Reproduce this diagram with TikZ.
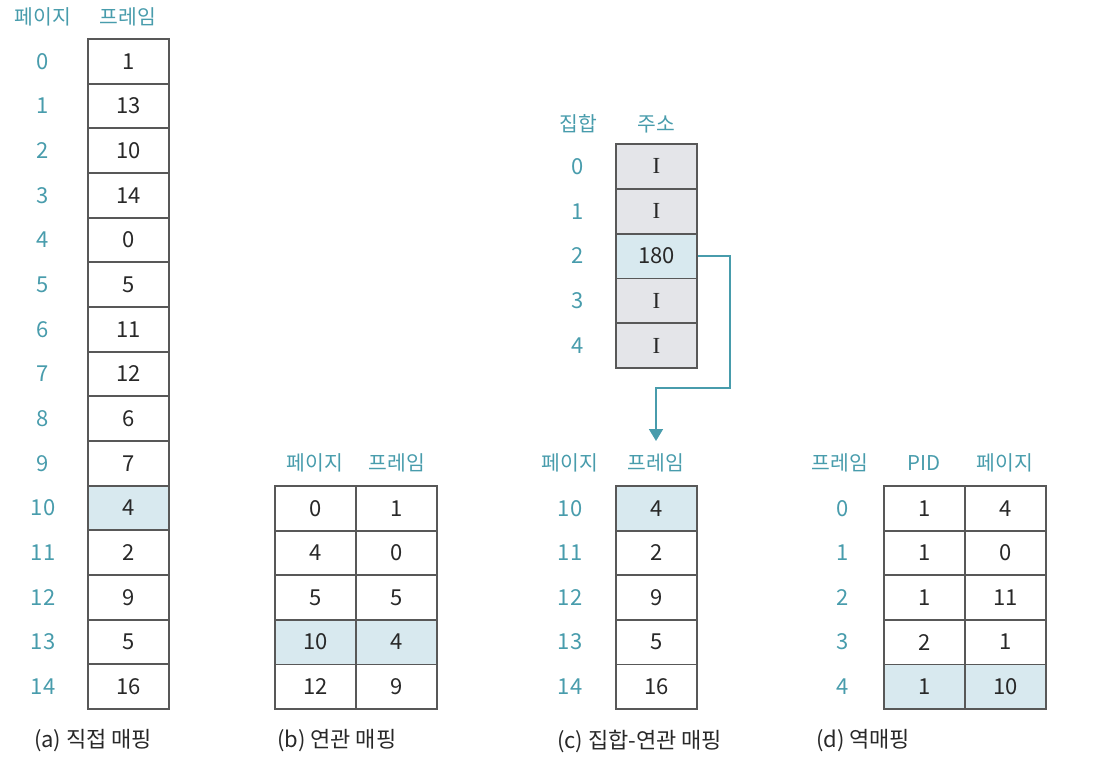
\documentclass[tikz,border=0pt]{standalone}
\usepackage{fontspec}
\setmainfont{Noto Sans CJK KR}
\newfontfamily\invfont{Liberation Serif}
\usetikzlibrary{arrows.meta}
\definecolor{idxteal}{RGB}{72,156,172}
\definecolor{cellline}{RGB}{88,88,88}
\definecolor{hitblue}{RGB}{216,233,239}
\definecolor{invgray}{RGB}{228,229,233}
\definecolor{captext}{RGB}{40,40,40}
\begin{document}
\begin{tikzpicture}[x=0.5pt,y=-0.5pt,
    cell/.style={draw=cellline,line width=0.85pt,minimum width=40.5pt,minimum height=22.35pt,inner sep=0pt,text=captext,font=\fontsize{11}{12}\selectfont},
    hit/.style={cell,fill=hitblue},
    inv/.style={cell,fill=invgray,font=\invfont\fontsize{11.5}{12}\selectfont},
    idx/.style={text=idxteal,font=\fontsize{11}{12}\selectfont},
    head/.style={text=idxteal,font=\fontsize{10.2}{12}\selectfont},
    caption/.style={anchor=west,text=captext,font=\fontsize{11}{12}\selectfont},
    link/.style={draw=idxteal,line width=0.85pt,-{Triangle[length=6pt,width=7pt]}}]
\useasboundingbox (0,0) rectangle (1102,762);

% (a) direct mapping
\node[head] (aPage) at (43,17) {페이지};
\node[head] (aFrame) at (128,17) {프레임};
\foreach \f/\s [count=\i from 0] in {1/cell,13/cell,10/cell,14/cell,0/cell,5/cell,11/cell,12/cell,6/cell,7/cell,4/hit,2/cell,9/cell,5/cell,16/cell} {
    \node[\s] (a\i) at (128.5,{61.3+44.67*\i}) {\f};
    \node[idx] (ai\i) at (43,{61.3+44.67*\i}) {\i};
}
\node[caption] (aCap) at (27,741) {(a) 직접 매핑};

% (b) associative mapping
\node[head] (bPage) at (315,463) {페이지};
\node[head] (bFrame) at (397,463) {프레임};
\foreach \p/\f/\s [count=\i from 0] in {0/1/cell,4/0/cell,5/5/cell,10/4/hit,12/9/cell} {
    \node[\s] (bp\i) at (315.5,{508.3+44.6*\i}) {\p};
    \node[\s] (bf\i) at (396.5,{508.3+44.6*\i}) {\f};
}
\node[caption] (bCap) at (270,741) {(b) 연관 매핑};

% (c) set-associative mapping
\node[head] (cSet) at (578,124) {집합};
\node[head] (cAddr) at (656,124) {주소};
\foreach \f/\s [count=\i from 0] in {I/inv,I/inv,180/hit,I/inv,I/inv} {
    \node[\s] (s\i) at (656.5,{166.4+44.8*\i}) {\f};
    \node[idx] (si\i) at (578,{166.4+44.8*\i}) {\i};
}
\node[head] (cPage) at (570,463) {페이지};
\node[head] (cFrame) at (656,463) {프레임};
\foreach \p/\f/\s [count=\i from 0] in {10/4/hit,11/2/cell,12/9/cell,13/5/cell,14/16/cell} {
    \node[\s] (c\i) at (656.5,{508.3+44.6*\i}) {\f};
    \node[idx] (ci\i) at (570,{508.3+44.6*\i}) {\p};
}
\coordinate (bend) at (730,388);
\coordinate (tip) at (656,441);
\draw[link] (s2.east) -| (bend) -| (tip);
\node[caption] (cCap) at (550,741) {(c) 집합-연관 매핑};

% (d) inverted mapping
\node[head] (dFrame) at (840,463) {프레임};
\node[head] (dPid) at (924,463) {PID};
\node[head] (dPage) at (1005,463) {페이지};
\foreach \q/\p/\s [count=\i from 0] in {1/4/cell,1/0/cell,1/11/cell,2/1/cell,1/10/hit} {
    \node[\s] (dq\i) at (924.5,{508.3+44.6*\i}) {\q};
    \node[\s] (dp\i) at (1005.5,{508.3+44.6*\i}) {\p};
    \node[idx] (di\i) at (843,{508.3+44.6*\i}) {\i};
}
\node[caption] (dCap) at (809,741) {(d) 역매핑};
\end{tikzpicture}
\end{document}
